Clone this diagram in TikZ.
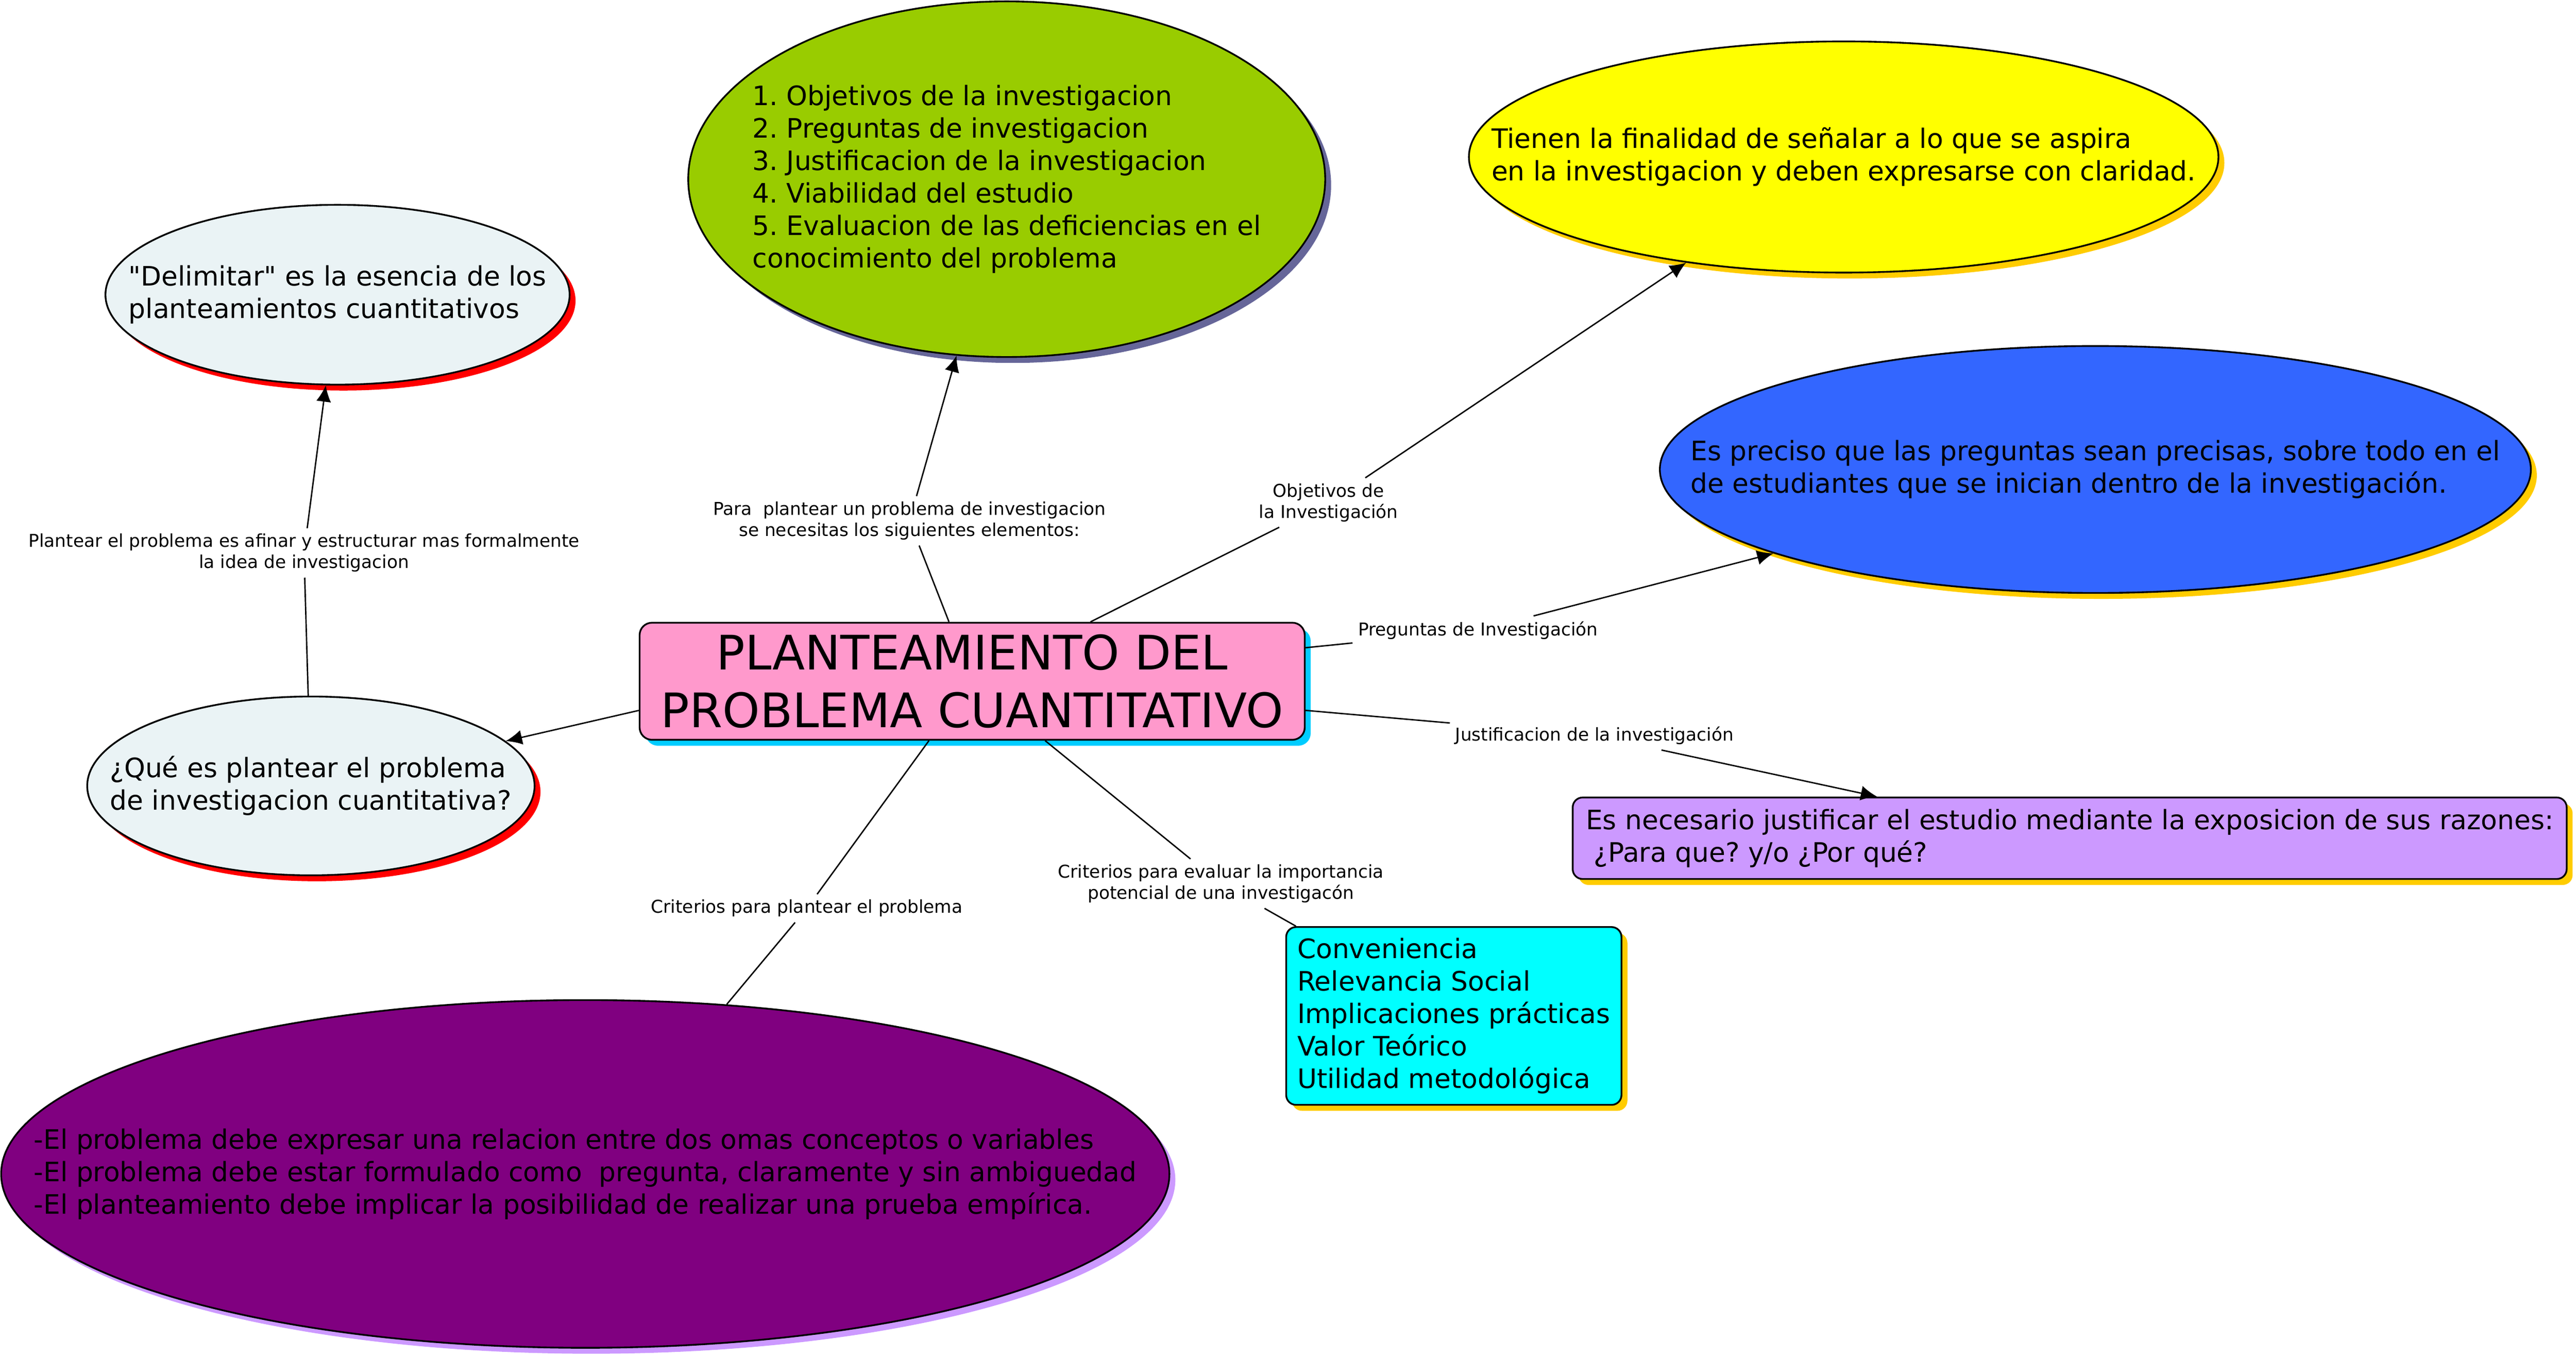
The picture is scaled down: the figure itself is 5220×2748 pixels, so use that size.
\documentclass[tikz,border=0pt]{standalone}
\usepackage{fontspec}
\setmainfont{DejaVu Sans}
\usetikzlibrary{arrows.meta,shadows,shapes.geometric}
\definecolor{rosa}{HTML}{FF99CC}
\definecolor{celeste}{HTML}{00CCFF}
\definecolor{perla}{RGB}{234,243,245}
\definecolor{oliva}{HTML}{99CC00}
\definecolor{pizarra}{HTML}{666699}
\definecolor{amarillo}{HTML}{FFFF00}
\definecolor{oro}{HTML}{FFCC00}
\definecolor{azul}{HTML}{3366FF}
\definecolor{lila}{HTML}{CC99FF}
\definecolor{cian}{HTML}{00FFFF}
\definecolor{morado}{HTML}{800080}
\frenchspacing
\begin{document}
\begin{tikzpicture}[x=0.01cm,y=-0.01cm,>={Latex[length=3.3mm,width=3mm]},line join=round,
	txt/.style={font=\fontsize{15.4}{18.7}\selectfont,align=left},
	lbl/.style={font=\fontsize{10.2}{12.2}\selectfont,align=center,inner sep=3pt},
	sombra/.style={drop shadow={shadow xshift=1.2mm,shadow yshift=-1.2mm,fill=#1,opacity=1}},
	burbuja/.style 2 args={ellipse,draw,line width=1pt,fill=#1,sombra=#2,inner sep=0pt},
	caja/.style 2 args={rectangle,rounded corners=2mm,draw,line width=1pt,fill=#1,sombra=#2,txt}]
	\useasboundingbox (0,0) rectangle (5220,2748);
	\node[caja={rosa}{celeste},minimum width=13.47cm,minimum height=2.37cm,rounded corners=2.5mm,inner xsep=2pt,font=\fontsize{27.4}{33.3}\selectfont,align=center] (plant) at (1970,1380) {PLANTEAMIENTO DEL\\PROBLEMA CUANTITATIVO};
	\node[burbuja={perla}{red},minimum width=9.4cm,minimum height=3.64cm,label={[txt]center:{\textquotedbl Delimitar\textquotedbl{} es la esencia de los\\planteamientos cuantitativos}}] (delim) at (684,597) {};
	\node[burbuja={perla}{red},minimum width=9.06cm,minimum height=3.62cm,label={[txt]center:{¿Qué es plantear el problema\\de investigacion cuantitativa?}}] (que) at (630,1592) {};
	\node[burbuja={oliva}{pizarra},minimum width=12.9cm,minimum height=7.2cm,label={[txt]center:{1. Objetivos de la investigacion\\2. Preguntas de investigacion\\3. Justificacion de la investigacion\\4. Viabilidad del estudio\\5. Evaluacion de las deficiencias en el\\conocimiento del problema}}] (elem) at (2040,363) {};
	\node[burbuja={amarillo}{oro},minimum width=15.18cm,minimum height=4.68cm,label={[txt]center:{Tienen la finalidad de señalar a lo que se aspira\\en la investigacion y deben expresarse con claridad.}}] (obj) at (3736,318) {};
	\node[burbuja={azul}{oro},minimum width=17.64cm,minimum height=5cm,label={[txt]center:{Es preciso que las preguntas sean precisas, sobre todo en el\\de estudiantes que se inician dentro de la investigación.}}] (preg) at (4246,951) {};
	\node[burbuja={morado}{lila},minimum width=23.66cm,minimum height=7.04cm,label={[txt]center:{-El problema debe expresar una relacion entre dos omas conceptos o variables\\-El problema debe estar formulado como~~pregunta, claramente y sin ambiguedad\\-El planteamiento debe implicar la posibilidad de realizar una prueba empírica.}}] (prob) at (1186,2378) {};
	\node[caja={lila}{oro},minimum width=20.13cm,minimum height=1.65cm] (just) at (4194,1698) {Es necesario justificar el estudio mediante la exposicion de sus razones:\\\hspace*{0.3em}¿Para que? y/o ¿Por qué?};
	\node[caja={cian}{oro},minimum width=6.79cm,minimum height=3.6cm] (crit) at (2946,2058) {Conveniencia\\Relevancia Social\\Implicaciones prácticas\\Valor Teórico\\Utilidad metodológica};
	\node[lbl] (lplan) at (616,1120) {Plantear el problema es afinar y estructurar mas formalmente\\la idea de investigacion};
	\node[lbl] (lpara) at (1843,1055) {Para~~plantear un problema de investigacion\\se necesitas los siguientes elementos:};
	\node[lbl] (lobj) at (2692,1018) {Objetivos de\\la Investigación};
	\node[lbl] (lpreg) at (2995,1277) {Preguntas de Investigación};
	\node[lbl] (ljust) at (3231,1490) {Justificacion de la investigación};
	\node[lbl] (leval) at (2474,1790) {Criterios para evaluar la importancia\\potencial de una investigacón};
	\node[lbl] (lcrit) at (1635,1840) {Criterios para plantear el problema};
	\draw[line width=.8pt,->] (plant.185) -- (que);
	\draw[line width=.8pt] (que) -- (lplan);
	\foreach \e in {lpara,lobj,lpreg,ljust,leval,lcrit}{
		\draw[line width=.8pt] (plant) -- (\e);
	}
	\foreach \e/\f in {lplan/delim,lpara/elem,lobj/obj,lpreg/preg,ljust/just}{
		\draw[line width=.8pt,->] (\e) -- (\f);
	}
	\foreach \e/\f in {leval/crit,lcrit/prob}{
		\draw[line width=.8pt] (\e) -- (\f);
	}
\end{tikzpicture}
\end{document}
